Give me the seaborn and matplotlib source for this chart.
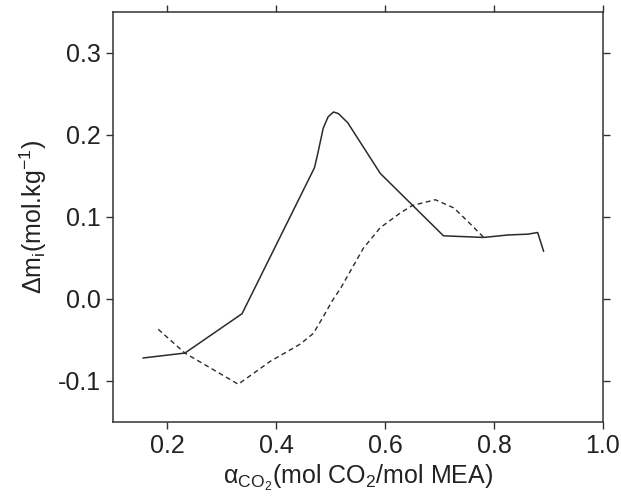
import matplotlib
matplotlib.use("Agg")
import matplotlib.pyplot as plt
import seaborn as sns
import pandas as pd

# Excess molality profiles versus CO2 loading
solid_x = [0.155, 0.232, 0.337, 0.470, 0.476, 0.486, 0.495, 0.505, 0.514, 0.531,
           0.591, 0.707, 0.781, 0.825, 0.862, 0.880, 0.891]
solid_y = [-0.072, -0.066, -0.018, 0.160, 0.177, 0.208, 0.222, 0.228, 0.226, 0.215,
           0.153, 0.077, 0.075, 0.078, 0.079, 0.081, 0.058]

dashed_x = [0.183, 0.232, 0.330, 0.389, 0.444, 0.468, 0.485, 0.503, 0.518, 0.560,
            0.591, 0.628, 0.650, 0.692, 0.726, 0.751, 0.772, 0.781]
dashed_y = [-0.037, -0.066, -0.104, -0.076, -0.055, -0.042, -0.023, -0.002, 0.013, 0.062,
            0.087, 0.105, 0.114, 0.121, 0.111, 0.095, 0.081, 0.075]

x_ticks = [0.2, 0.4, 0.6, 0.8, 1.0]
y_ticks = [-0.1, 0.0, 0.1, 0.2, 0.3]

sns.set_style("ticks")
plt.rcParams["font.family"] = ["Liberation Sans", "DejaVu Sans"]
plt.rcParams["mathtext.fontset"] = "custom"
plt.rcParams["mathtext.rm"] = "Liberation Sans"
plt.rcParams["mathtext.it"] = "Liberation Sans:italic"

fig = plt.figure(figsize=(6.21, 4.97), dpi=100)
ax = fig.add_axes([0.182, 0.151, 0.789, 0.825])

line_color = "#2b2b2b"
df_solid = pd.DataFrame({"x": solid_x, "y": solid_y})
df_dashed = pd.DataFrame({"x": dashed_x, "y": dashed_y})
sns.lineplot(data=df_solid, x="x", y="y", sort=False, ax=ax,
             color=line_color, linewidth=1.1)
sns.lineplot(data=df_dashed, x="x", y="y", sort=False, ax=ax,
             color=line_color, linewidth=1.0, linestyle=(0, (3.5, 2.5)))

ax.set_xlim(0.1, 1.0)
ax.set_ylim(-0.15, 0.35)
ax.set_xticks(x_ticks)
ax.set_yticks(y_ticks)
ax.set_xticklabels([f"{v:.1f}" for v in x_ticks])
ax.set_yticklabels([f"{v:.1f}" for v in y_ticks])

for side in ["left", "right", "top", "bottom"]:
    ax.spines[side].set_visible(True)
    ax.spines[side].set_color("#333333")
    ax.spines[side].set_linewidth(1.1)

ax.tick_params(axis="both", which="both", direction="out", length=5, width=1.0,
               color="#333333", labelsize=18, labelcolor="#222222", pad=4,
               top=True, right=True, labeltop=False, labelright=False)

ax.set_xlabel(r"$\mathregular{\alpha_{CO_2}}$(mol CO$\mathregular{_2}$/mol MEA)",
              fontsize=18, color="#222222", labelpad=3)
ax.set_ylabel(r"$\mathregular{\Delta m_i}$(mol.kg$\mathregular{^{-1}}$)",
              fontsize=18, color="#222222", labelpad=6)

fig.savefig("out.png", dpi=100, facecolor="white")
